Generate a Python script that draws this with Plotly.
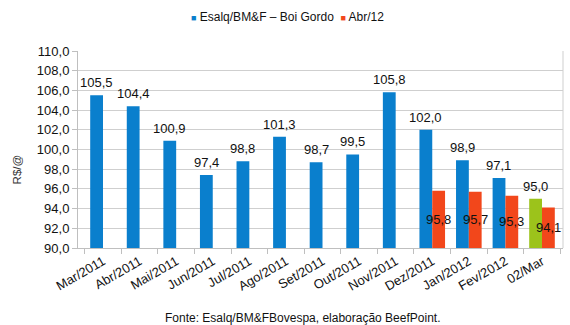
import plotly.graph_objects as go

categories = ["Mar/2011", "Abr/2011", "Mai/2011", "Jun/2011", "Jul/2011", "Ago/2011",
              "Set/2011", "Out/2011", "Nov/2011", "Dez/2011", "Jan/2012", "Fev/2012", "02/Mar"]
boi_gordo = [105.5, 104.4, 100.9, 97.4, 98.8, 101.3, 98.7, 99.5, 105.8, 102.0, 98.9, 97.1, 95.0]
abr12 = [None, None, None, None, None, None, None, None, None, 95.8, 95.7, 95.3, 94.1]
y_ticks = [90, 92, 94, 96, 98, 100, 102, 104, 106, 108, 110]
y_min, y_max = 90, 110

BLUE = "#0a7fcd"
RED = "#f2471b"
GREEN = "#9cc31b"
FONT = "Liberation Sans, Arial, sans-serif"
TXT = "#111111"

def fmt(v):
    return f"{v:.1f}".replace(".", ",")

blue_colors = [BLUE] * (len(categories) - 1) + [GREEN]

fig = go.Figure()
fig.add_trace(go.Bar(
    x=categories, y=boi_gordo, name="Esalq/BM&F – Boi Gordo",
    marker=dict(color=blue_colors, line=dict(width=0)),
))
fig.add_trace(go.Bar(
    x=categories, y=abr12, name="Abr/12",
    marker=dict(color=RED, line=dict(width=0)),
))

annotations = []
for c, v in zip(categories, boi_gordo):
    annotations.append(dict(x=c, y=v, xref="x", yref="y", text=fmt(v), showarrow=False,
                            xshift=-6.5, yshift=3, yanchor="bottom", xanchor="center",
                            font=dict(size=13, family=FONT, color=TXT)))
for c, v in zip(categories, abr12):
    if v is None:
        continue
    annotations.append(dict(x=c, y=(y_min + v) / 2, xref="x", yref="y", text=fmt(v), showarrow=False,
                            xshift=6.5, yanchor="middle", xanchor="center",
                            font=dict(size=13, family=FONT, color=TXT)))

# legend row
annotations.append(dict(
    xref="paper", yref="paper", x=0.431, y=1.173, xanchor="center", yanchor="middle", showarrow=False,
    text=(f"<span style='color:{BLUE};font-size:9px'>■</span> Esalq/BM&F – Boi Gordo  "
          f"<span style='color:{RED};font-size:9px'>■</span> Abr/12"),
    font=dict(size=12, family=FONT, color=TXT)))
# y axis title
annotations.append(dict(xref="paper", yref="paper", x=-0.125, y=(248 - 169) / 197, xanchor="center",
                        yanchor="middle", textangle=-90, showarrow=False, text="R$/@",
                        font=dict(size=11.5, family=FONT, color="#333333")))
# source
annotations.append(dict(text="Fonte: Esalq/BM&FBovespa, elaboração BeefPoint.",
                        xref="paper", yref="paper", x=0.464, y=-0.355, xanchor="center", yanchor="middle",
                        showarrow=False, font=dict(size=12, family=FONT, color=TXT)))

fig.update_layout(
    width=570, height=325,
    margin=dict(l=78, r=7, t=51, b=77),
    paper_bgcolor="white", plot_bgcolor="white",
    barmode="group", bargap=0.3, bargroupgap=0,
    separators=",.",
    font=dict(family=FONT, size=13, color=TXT),
    showlegend=False,
    yaxis=dict(range=[y_min, y_max], tickvals=y_ticks, tickformat=".1f",
               showgrid=True, gridcolor="#cfcfcf", gridwidth=1,
               showline=True, linecolor="#bfbfbf", ticks="outside", ticklen=5,
               tickcolor="#bfbfbf", zeroline=False,
               tickfont=dict(size=13, family=FONT, color=TXT)),
    xaxis=dict(tickangle=-30, showline=True, linecolor="#bfbfbf",
               ticks="outside", ticklen=5, tickcolor="#bfbfbf", tickson="boundaries",
               tickfont=dict(size=13, family=FONT, color=TXT)),
    annotations=annotations,
    shapes=[dict(type="line", xref="paper", yref="paper", x0=1, x1=1, y0=0, y1=1,
                 line=dict(color="#cfcfcf", width=1))],
)

fig.write_html("out.html")
